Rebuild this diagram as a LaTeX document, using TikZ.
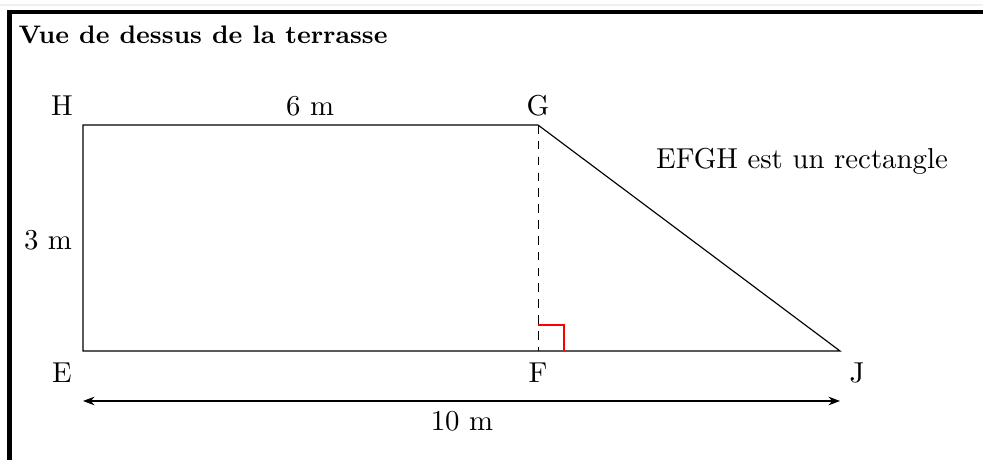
\documentclass[tikz,border=0pt]{standalone}
\usetikzlibrary{arrows.meta}
\begin{document}
\begin{tikzpicture}[x=0.3472pt,y=-0.3472pt,
  lbl/.style={inner sep=0pt,font=\normalsize},
  edge/.style={line width=0.4pt},
  frame/.style={line width=1.4pt}]
\useasboundingbox (0,0) rectangle (983,460);
\fill[white] (0,0) rectangle (983,460);
\draw[gray!12,line width=0.7pt] (0,5) -- (983,5);
% frame
\coordinate (f1) at (9.5,460);
\coordinate (f2) at (9.5,12);
\coordinate (f3) at (983,12);
\draw[frame] (f1) -- (f2) -- (f3);
\node[anchor=west,inner sep=0pt,font=\bfseries\fontsize{8.8}{10}\selectfont] (title) at (18,35) {Vue de dessus de la terrasse};
% points
\coordinate (E) at (83,351);
\coordinate (H) at (83,125);
\coordinate (G) at (538,125);
\coordinate (F) at (538,351);
\coordinate (J) at (840,351);
\draw[edge] (G) -- (H) -- (E) -- (J) -- (G);
\draw[line width=0.3pt,dash pattern=on 3pt off 2.5pt] (G) -- (F);
\coordinate (r1) at (538,325);
\coordinate (r2) at (564,325);
\coordinate (r3) at (564,351);
\draw[red,line width=0.75pt] (r1) -- (r2) -- (r3);
% labels
\node[lbl] (lH) at (62,106) {H};
\node[lbl] (lG) at (538,106) {G};
\node[lbl] (lE) at (62,373) {E};
\node[lbl] (lF) at (538,373) {F};
\node[lbl] (lJ) at (857,373) {J};
\node[lbl] (l6) at (310,106) {6~m};
\node[lbl] (l3) at (48,240) {3~m};
\node[lbl] (lrect) at (802,161) {EFGH est un rectangle};
% dimension arrow
\coordinate (a1) at (83,401);
\coordinate (a2) at (840,401);
\draw[edge,{Stealth[length=4pt,width=3pt]}-{Stealth[length=4pt,width=3pt]}] (a1) -- (a2);
\node[lbl] (l10) at (462,421) {10~m};
\end{tikzpicture}
\end{document}
